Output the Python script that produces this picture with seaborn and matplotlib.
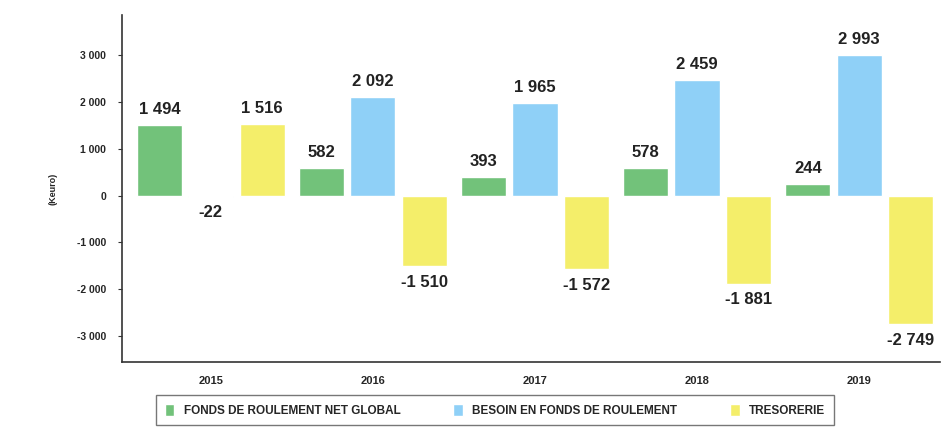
import pandas as pd
import numpy as np
import seaborn as sns
from matplotlib import pyplot as plt

annees = ['2015', '2016', '2017', '2018', '2019']
series = ['FONDS DE ROULEMENT NET GLOBAL', 'BESOIN EN FONDS DE ROULEMENT', 'TRESORERIE']
frng = [1494, 582, 393, 578, 244]
bfr = [-22, 2092, 1965, 2459, 2993]
treso = [1516, -1510, -1572, -1881, -2749]
couleurs = ['#72c27a', '#8fd0f7', '#f4ee6a']
yticks = [-3000, -2000, -1000, 0, 1000, 2000, 3000]

sns.set_theme(style='white')
plt.rcParams['font.family'] = ['Liberation Sans', 'DejaVu Sans']

data = pd.DataFrame({
    'annee': annees * 3,
    'serie': [series[0]] * 5 + [series[1]] * 5 + [series[2]] * 5,
    'valeur': frng + bfr + treso,
})

def fmt(v):
    return f'{v:,.0f}'.replace(',', ' ')

fig = plt.figure(figsize=(9.43, 4.41), dpi=100)
ax = fig.add_axes([0.129, 0.179, 0.868, 0.787])
sns.barplot(data=data, x='annee', y='valeur', hue='serie', palette=couleurs,
            width=0.95, gap=0.12, ax=ax, saturation=1, legend=True)

for cont in ax.containers:
    vals = [b.get_height() for b in cont]
    ax.bar_label(cont, labels=[fmt(v) for v in vals], padding=6,
                 fontsize=12, fontweight='bold', color='#222222')

ax.set_ylim(-3550, 3850)
ax.set_xlim(-0.55, 4.5)
ax.set_yticks(yticks)
ax.set_yticklabels([fmt(v) for v in yticks], fontsize=7.5, fontweight='bold')
ax.tick_params(axis='x', labelsize=8, pad=4)
for t in ax.get_xticklabels():
    t.set_fontweight('bold')
ax.tick_params(axis='y', left=True, length=3, width=0.8, color='#333333', pad=8)
ax.set_xlabel('')
ax.set_ylabel('(Keuro)', fontsize=6.5, fontweight='bold', labelpad=14)
sns.despine(ax=ax, top=True, right=True)
for s in ['left', 'bottom']:
    ax.spines[s].set_color('#333333')
    ax.spines[s].set_linewidth(1.2)

ax.legend(loc='center', bbox_to_anchor=(0.525, 0.07), bbox_transform=fig.transFigure,
          ncol=3, frameon=True, fancybox=False, edgecolor='#555555',
          handlelength=0.8, handleheight=1.2, columnspacing=4.5,
          borderpad=0.7, prop={'weight': 'bold', 'size': 8.5})

plt.savefig('out.png', dpi=100)
